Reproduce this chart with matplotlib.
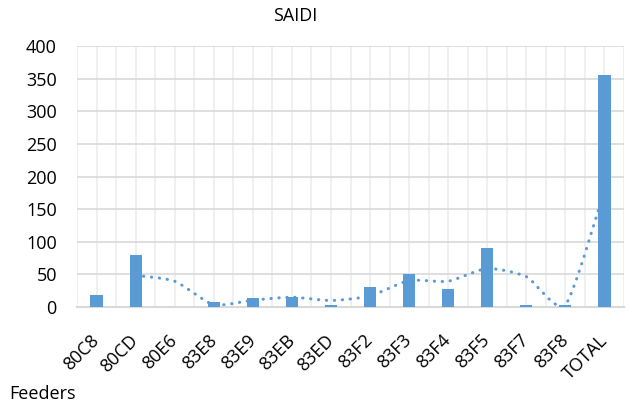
import matplotlib.pyplot as plt
import numpy as np
from matplotlib.path import Path
from matplotlib.patches import PathPatch

plt.rcParams["font.family"] = ["Open Sans", "DejaVu Sans"]

feeders = ["80C8", "80CD", "80E6", "83E8", "83E9", "83EB", "83ED",
           "83F2", "83F3", "83F4", "83F5", "83F7", "83F8", "TOTAL"]
saidi = [18, 79, 0, 7, 14, 16, 3.5, 30.5, 50.5, 28, 90, 3.5, 3, 355]
# 2-period moving average trend (starts at 2nd feeder)
trend = [48.5, 39.5, 3.5, 10.5, 15, 10, 17, 40.5, 39.5, 59, 46.5, 3.3, 179]

BLUE = "#5B9BD5"

fig = plt.figure(figsize=(6.32, 4.04), dpi=100)
ax = fig.add_axes([77 / 632, 1 - 307 / 404, 547 / 632, 261 / 404])

x = np.arange(len(feeders))
ax.bar(x, saidi, width=0.31, color=BLUE, zorder=3)

# smoothed dotted trend line (cubic Bezier through the points, like Excel)
tx = x[1:].astype(float)
ty = np.array(trend, dtype=float)
pts = np.column_stack([tx, ty])
verts = [pts[0]]
codes = [Path.MOVETO]
k = 1 / 9
for i in range(len(pts) - 1):
    p0 = pts[i - 1] if i > 0 else pts[i]
    p1, p2 = pts[i], pts[i + 1]
    p3 = pts[i + 2] if i + 2 < len(pts) else pts[i + 1]
    verts += [p1 + (p2 - p0) * k, p2 - (p3 - p1) * k, p2]
    codes += [Path.CURVE4] * 3
ax.add_patch(PathPatch(Path(verts, codes), fill=False, edgecolor=BLUE,
                       linewidth=2.2, linestyle=(0, (0.1, 2.5)),
                       capstyle="round", zorder=2))

ax.set_xlim(-0.5, len(feeders) - 0.5)
ax.set_ylim(0, 400)
ax.set_yticks(np.arange(0, 401, 50))
ax.set_xticks(x)
ax.set_xticks(np.arange(-0.5, len(feeders), 1), minor=True)
ax.set_xticklabels(feeders, rotation=45, ha="right", va="center",
                   rotation_mode="anchor")
ax.tick_params(axis="both", length=0, labelsize=13)
ax.tick_params(axis="x", which="both", length=0, pad=22)
ax.tick_params(axis="y", pad=14.5)

ax.grid(axis="y", color="#D9D9D9", linewidth=1.2, zorder=0)
ax.grid(axis="x", which="both", color="#EDEDED", linewidth=1.2, zorder=0)
ax.set_axisbelow(True)
for s in ["left", "right", "top"]:
    ax.spines[s].set_visible(False)
ax.spines["bottom"].set_color("#D9D9D9")
ax.spines["bottom"].set_linewidth(1.5)

fig.text(295 / 632, 1 - 16 / 404, "SAIDI", ha="center", va="center", fontsize=13)
fig.text(9 / 632, 1 / 404, "Feeders", ha="left", va="bottom", fontsize=13)

fig.savefig("out.png", dpi=100)
